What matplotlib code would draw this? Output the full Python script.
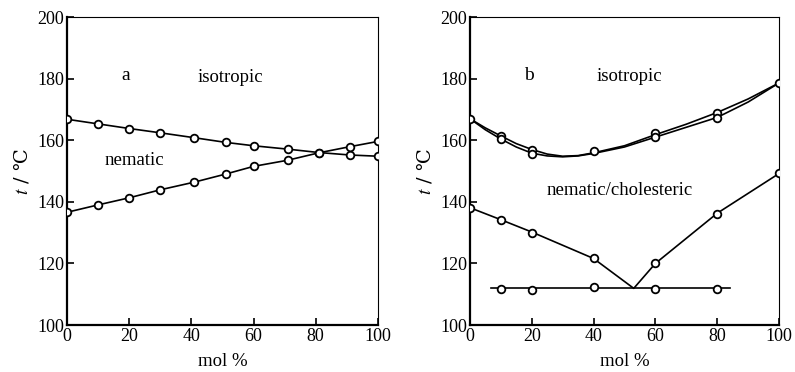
import matplotlib.pyplot as plt

plt.rcParams['font.family'] = ['Liberation Serif', 'DejaVu Serif']
plt.rcParams['mathtext.fontset'] = 'stix'

# panel a: clearing (upper) and melting (lower) temperatures
a_x_upper = [0, 10, 20, 30, 41, 51, 60, 71, 81, 91, 100]
a_t_upper = [166.8, 165.3, 163.8, 162.4, 160.8, 159.3, 158.2, 157.1, 156.0, 155.2, 154.8]
a_x_lower = [0, 10, 20, 30, 41, 51, 60, 71, 81, 91, 100]
a_t_lower = [136.6, 139.0, 141.3, 143.9, 146.4, 149.0, 151.5, 153.5, 155.9, 157.9, 159.6]

# panel b: clearing curves (two runs) -- traced lines and measured points
b_curve_x = [0, 5, 10, 15, 20, 25, 30, 35, 40, 50, 60, 70, 80, 90, 100]
b_curve_hi = [167.0, 164.0, 161.4, 158.9, 157.0, 155.5, 154.8, 155.0, 155.9, 158.2, 161.8, 165.2, 169.0, 173.4, 178.6]
b_curve_lo = [167.0, 163.4, 160.4, 157.8, 155.8, 154.9, 154.6, 154.9, 155.7, 157.8, 161.0, 164.2, 167.4, 172.4, 178.6]
b_pts_x_hi = [0, 10, 20, 40, 60, 80, 100]
b_pts_t_hi = [167.0, 161.4, 156.8, 156.4, 162.2, 168.9, 178.6]
b_pts_x_lo = [10, 20, 60, 80]
b_pts_t_lo = [160.3, 155.4, 161.1, 167.1]

# panel b: melting branches meeting at the eutectic
b_melt_x = [0, 10, 20, 40, 53, 60, 80, 100]
b_melt_t = [138.1, 134.2, 130.2, 121.6, 111.9, 120.0, 136.3, 149.2]
b_melt_pts_x = [0, 10, 20, 40, 60, 80, 100]
b_melt_pts_t = [138.1, 134.1, 130.0, 121.6, 120.0, 136.2, 149.2]

# panel b: eutectic line
b_eut_x = [7, 84]
b_eut_t = [111.9, 111.9]
b_eut_pts_x = [10, 20, 40, 60, 80]
b_eut_pts_t = [111.8, 111.4, 112.4, 111.7, 111.6]

xticks = [0, 20, 40, 60, 80, 100]
yticks = [100, 120, 140, 160, 180, 200]

fig = plt.figure(figsize=(7.95, 3.72), dpi=100)
ax1 = fig.add_axes([0.0843, 0.1263, 0.391, 0.828])
ax2 = fig.add_axes([0.591, 0.1263, 0.389, 0.828])

mk = dict(marker='o', markersize=5.5, markerfacecolor='white',
          markeredgecolor='black', markeredgewidth=1.3, linestyle='none', zorder=3)
ln = dict(color='black', linewidth=1.2, zorder=2)

ax1.plot(a_x_upper, a_t_upper, **ln)
ax1.plot(a_x_lower, a_t_lower, **ln)
ax1.plot(a_x_upper, a_t_upper, **mk)
ax1.plot(a_x_lower, a_t_lower, **mk)
ax1.text(19, 181, 'a', fontsize=14, ha='center', va='center')
ax1.text(52.5, 180.3, 'isotropic', fontsize=13.5, ha='center', va='center')
ax1.text(21.6, 153.3, 'nematic', fontsize=13.5, ha='center', va='center')

ax2.plot(b_curve_x, b_curve_hi, **ln)
ax2.plot(b_curve_x, b_curve_lo, **ln)
ax2.plot(b_melt_x, b_melt_t, **ln)
ax2.plot(b_eut_x, b_eut_t, **ln)
ax2.plot(b_pts_x_hi, b_pts_t_hi, **mk)
ax2.plot(b_pts_x_lo, b_pts_t_lo, **mk)
ax2.plot(b_melt_pts_x, b_melt_pts_t, **mk)
ax2.plot(b_eut_pts_x, b_eut_pts_t, **mk)
ax2.text(19, 181, 'b', fontsize=14, ha='center', va='center')
ax2.text(51.5, 180.8, 'isotropic', fontsize=13.5, ha='center', va='center')
ax2.text(48.3, 143.6, 'nematic/cholesteric', fontsize=13.5, ha='center', va='center')

for ax in (ax1, ax2):
    ax.set_xlim(0, 100)
    ax.set_ylim(100, 200)
    ax.set_xticks(xticks)
    ax.set_yticks(yticks)
    ax.tick_params(direction='in', length=5, width=1.2, labelsize=13, pad=2)
    ax.spines['left'].set_linewidth(1.6)
    ax.spines['bottom'].set_linewidth(1.6)
    ax.spines['top'].set_linewidth(0.8)
    ax.spines['right'].set_linewidth(0.8)
    ax.set_xlabel('mol %', fontsize=13.5, labelpad=6)
    ax.set_ylabel('$t$ / ℃', fontsize=14, family=['DejaVu Serif'], labelpad=4)

fig.savefig('out.png', dpi=100)
